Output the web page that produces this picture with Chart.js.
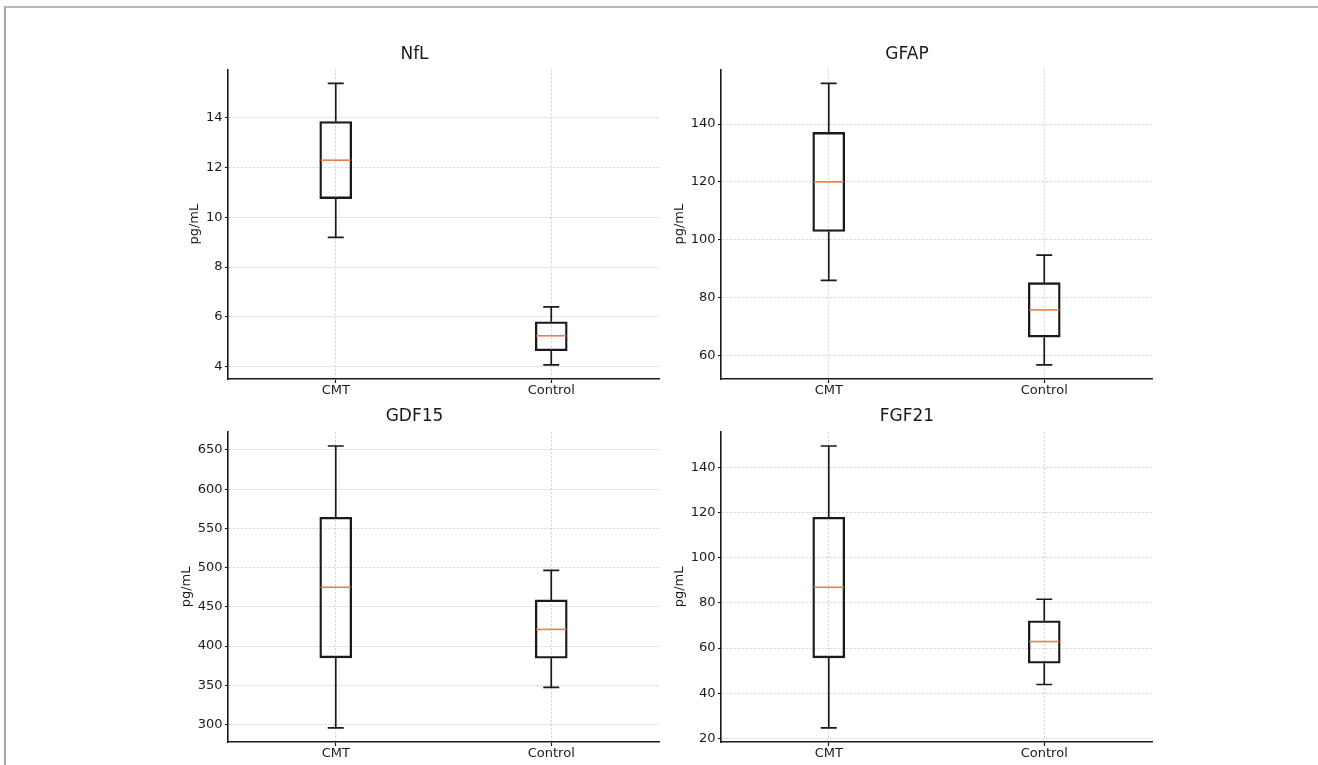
<!DOCTYPE html>
<html>
<head>
<meta charset="utf-8">
<script src="https://cdn.jsdelivr.net/npm/chart.js@4.4.0/dist/chart.umd.min.js"></script>
<style>
  body { margin: 0; background: #fff; width: 1318px; height: 765px; position: relative; overflow: hidden; }
  #frame { position: absolute; left: 4px; top: 6px; right: 0; bottom: 0; border-top: 2px solid #b8b8b8; border-left: 2px solid #a8a8a8; }
  canvas { position: absolute; }
</style>
</head>
<body>
<div id="frame"></div>
<canvas id="nfl" width="500" height="363" style="left:170px;top:36px"></canvas>
<canvas id="gfap" width="500" height="363" style="left:662px;top:36px"></canvas>
<canvas id="gdf15" width="500" height="363" style="left:170px;top:399px"></canvas>
<canvas id="fgf21" width="500" height="363" style="left:662px;top:399px"></canvas>
<script>
const groups = ['CMT', 'Control'];

// five-number summaries: [low whisker, Q1, median, Q3, high whisker]
const nflCMT = [9.19, 10.75, 12.29, 13.84, 15.37];
const nflControl = [4.07, 4.64, 5.24, 5.80, 6.40];
const gfapCMT = [86.0, 102.9, 120.0, 137.1, 154.0];
const gfapControl = [56.8, 66.4, 75.8, 85.2, 94.7];
const gdf15CMT = [295.7, 385.0, 475.0, 564.2, 655.1];
const gdf15Control = [347.4, 384.6, 421.3, 458.9, 496.6];
const fgf21CMT = [24.7, 55.7, 86.9, 117.9, 149.4];
const fgf21Control = [43.9, 53.3, 62.9, 72.1, 81.6];

const nflTicks = [4, 6, 8, 10, 12, 14];
const gfapTicks = [60, 80, 100, 120, 140];
const gdf15Ticks = [300, 350, 400, 450, 500, 550, 600, 650];
const fgf21Ticks = [20, 40, 60, 80, 100, 120, 140];

const FONT = '"DejaVu Sans", "Liberation Sans", sans-serif';
const INK = '#1a1a1a';
const BOX_W = 32;

// whiskers, caps and medians drawn through the chart's scales
const whiskerPlugin = {
  id: 'whiskers',
  afterDatasetsDraw(chart, args, opts) {
    const {ctx, scales: {x, y}} = chart;
    ctx.save();
    opts.stats.forEach((s, i) => {
      const cx = x.getPixelForValue(i);
      const yLow = y.getPixelForValue(s[0]);
      const yQ1 = y.getPixelForValue(s[1]);
      const yMed = y.getPixelForValue(s[2]);
      const yQ3 = y.getPixelForValue(s[3]);
      const yHigh = y.getPixelForValue(s[4]);
      ctx.strokeStyle = INK;
      ctx.lineWidth = 1.7;
      ctx.beginPath();
      ctx.moveTo(cx, yQ1); ctx.lineTo(cx, yLow);
      ctx.moveTo(cx, yQ3); ctx.lineTo(cx, yHigh);
      ctx.moveTo(cx - BOX_W / 4, yLow); ctx.lineTo(cx + BOX_W / 4, yLow);
      ctx.moveTo(cx - BOX_W / 4, yHigh); ctx.lineTo(cx + BOX_W / 4, yHigh);
      ctx.stroke();
      ctx.strokeStyle = '#e5814c';
      ctx.lineWidth = 1.6;
      ctx.beginPath();
      ctx.moveTo(cx - BOX_W / 2 + 1, yMed); ctx.lineTo(cx + BOX_W / 2 - 1, yMed);
      ctx.stroke();
    });
    ctx.restore();
  }
};

function makeChart(id, title, stats, ticks, yAxisW, padRight, yTitlePad, titleTop) {
  const lo = Math.min(...stats.map(s => s[0]));
  const hi = Math.max(...stats.map(s => s[4]));
  const margin = (hi - lo) * 0.05;
  return new Chart(document.getElementById(id), {
    type: 'bar',
    data: {
      labels: groups,
      datasets: [{
        data: stats.map(s => [s[1], s[3]]),
        backgroundColor: 'rgba(0,0,0,0)',
        borderColor: INK,
        borderWidth: 1.7,
        borderSkipped: false,
        barThickness: BOX_W,
      }]
    },
    options: {
      responsive: false,
      animation: false,
      layout: { padding: { left: 0, right: padRight, top: 0, bottom: 0 } },
      plugins: {
        legend: { display: false },
        tooltip: { enabled: false },
        title: {
          display: true,
          text: title,
          color: INK,
          font: { family: FONT, size: 17, weight: 'normal' },
          padding: { top: titleTop, bottom: 5 },
        },
        whiskers: { stats: stats },
      },
      scales: {
        x: {
          type: 'category',
          offset: true,
          grid: {
            offset: false,
            color: '#c6c6c6',
            lineWidth: 0.8,
            tickColor: INK,
            tickLength: 4,
            tickWidth: 1.2,
            tickBorderDash: [],
          },
          border: { display: true, color: INK, width: 1.6, dash: [2, 2] },
          ticks: { color: INK, font: { family: FONT, size: 13 }, padding: 0 },
          afterFit(s) { s.height = 20; },
        },
        y: {
          min: lo - margin,
          max: hi + margin,
          afterBuildTicks(s) { s.ticks = ticks.map(v => ({ value: v })); },
          grid: {
            color: '#c6c6c6',
            lineWidth: 0.8,
            tickColor: INK,
            tickLength: 3,
            tickWidth: 1.2,
            tickBorderDash: [],
          },
          border: { display: true, color: INK, width: 1.6, dash: [2, 2] },
          ticks: { color: INK, font: { family: FONT, size: 13 }, padding: 2.5 },
          title: {
            display: true,
            text: 'pg/mL',
            color: INK,
            font: { family: FONT, size: 13 },
            padding: { top: yTitlePad, bottom: 0 },
          },
          afterFit(s) { s.width = yAxisW; },
        },
      },
    },
    plugins: [whiskerPlugin],
  });
}

makeChart('nfl', 'NfL', [nflCMT, nflControl], nflTicks, 58, 11, 17, 8);
makeChart('gfap', 'GFAP', [gfapCMT, gfapControl], gfapTicks, 59, 10, 10, 8);
makeChart('gdf15', 'GDF15', [gdf15CMT, gdf15Control], gdf15Ticks, 58, 11, 9, 7.5);
makeChart('fgf21', 'FGF21', [fgf21CMT, fgf21Control], fgf21Ticks, 59, 10, 10, 7.5);
</script>
</body>
</html>
